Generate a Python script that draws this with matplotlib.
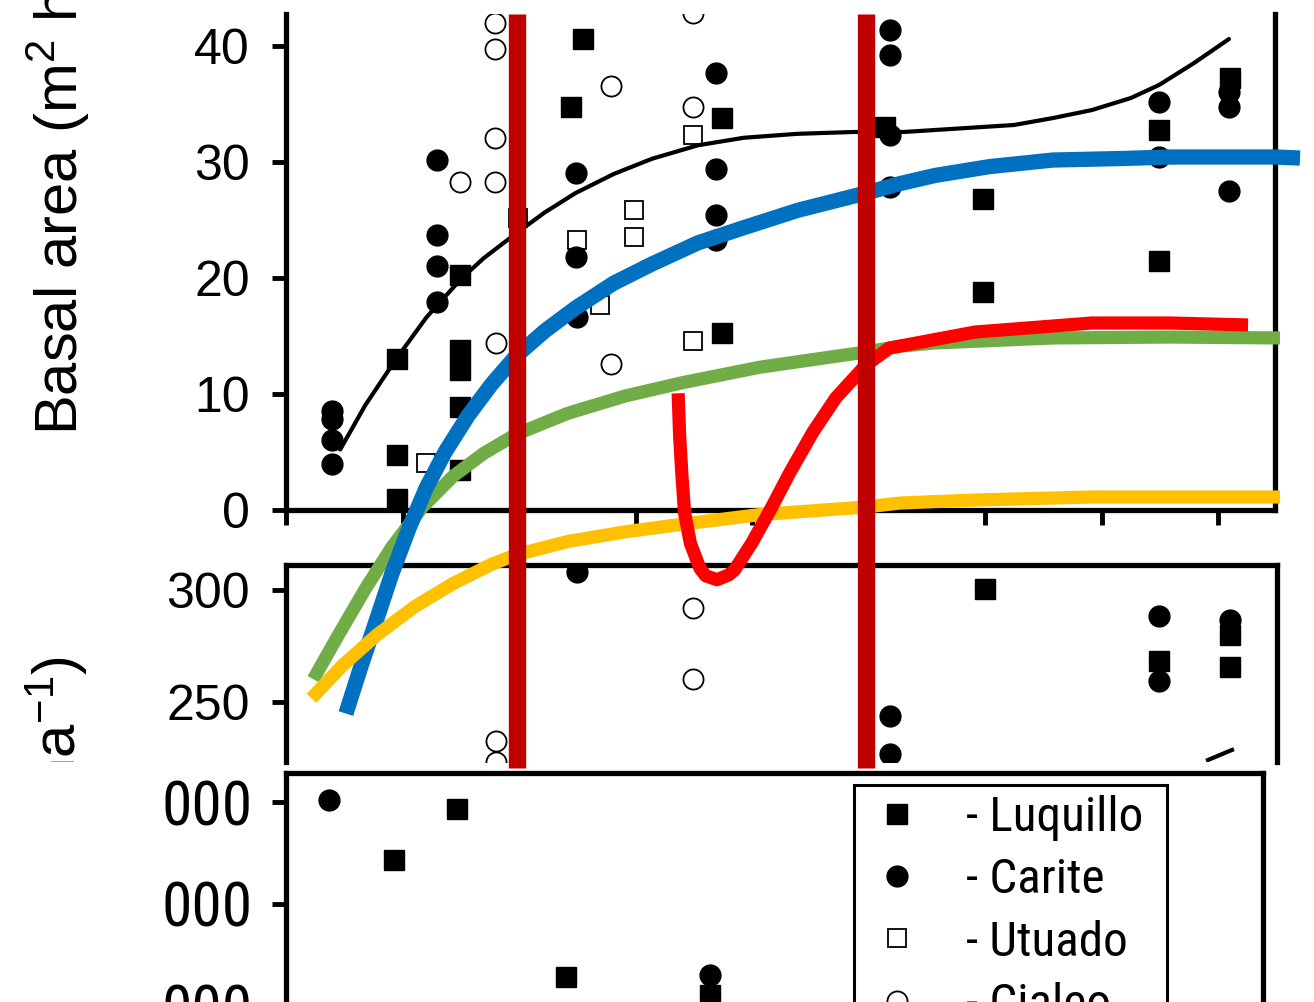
import matplotlib
matplotlib.use('Agg')
import matplotlib.pyplot as plt
from matplotlib import font_manager
from matplotlib.font_manager import FontProperties
from matplotlib.lines import Line2D
from matplotlib.transforms import Bbox
from matplotlib.textpath import TextPath

W, H = 1314, 1002
avail = {f.name for f in font_manager.fontManager.ttflist}
SANS = 'Liberation Sans' if 'Liberation Sans' in avail else 'DejaVu Sans'

plt.rcParams['font.family'] = [SANS, 'DejaVu Sans']
plt.rcParams['mathtext.fontset'] = 'custom'
plt.rcParams['mathtext.rm'] = SANS
plt.rcParams['mathtext.it'] = SANS + ':italic'
plt.rcParams['mathtext.bf'] = SANS + ':bold'

# ---------------- data ----------------
age_ticks = [0, 10, 20, 30, 40, 50, 60, 70, 80]
ba_ticks = [0, 10, 20, 30, 40]
mid_ticks = [250, 300]
bot_ticks = [1, 2, 3]
bot_ticklabels = ['000', '000', '000']

site_names = ['- Luquillo', '- Carite', '- Utuado', '- Cialeo']

# top panel: basal area (m2 ha-1) vs stand age (yr)
luq_age = [9.53, 9.53, 9.53, 14.94, 14.94, 14.94, 14.94, 14.94, 25.49, 24.46,
           37.42, 37.42, 51.42, 59.83, 59.83, 74.94, 74.94, 81.03]
luq_ba = [13.02, 4.74, 0.95, 20.26, 13.79, 12.07, 8.88, 3.45, 40.60, 34.74,
          33.79, 15.26, 33.02, 26.81, 18.79, 32.76, 21.47, 37.24]

car_age = [3.95, 3.95, 3.95, 3.95, 12.96, 12.96, 12.96, 12.96, 24.89, 24.89, 24.98,
           36.91, 36.91, 36.91, 36.91, 51.85, 51.85, 51.85, 51.85, 74.94, 74.94,
           80.94, 80.94, 80.94]
car_ba = [8.53, 7.84, 6.03, 3.97, 30.17, 23.71, 21.03, 17.93, 29.05, 21.81, 16.64,
          37.67, 29.40, 25.43, 23.28, 41.38, 39.22, 32.33, 27.84, 35.17, 30.43,
          36.03, 34.74, 27.50]

utu_age = [12.02, 24.98, 29.87, 29.87, 26.95, 34.94, 34.94, 19.9]
utu_ba = [4.05, 23.28, 25.86, 23.53, 17.67, 32.33, 14.57, 25.17]

cia_age = [14.94, 17.94, 17.94, 17.94, 17.94, 18.03, 27.90, 27.90, 34.94, 34.94]
cia_ba = [28.28, 41.98, 39.74, 32.07, 28.28, 14.40, 36.55, 12.59, 42.84, 34.74]

# black fitted curve (top panel)
fit_age = [4.65, 6.79, 9.42, 12.04, 15.00, 16.97, 19.76, 22.22, 24.85, 28.14, 31.42,
           35.36, 39.30, 43.91, 48.83, 53.05, 62.49, 65.84, 69.18, 72.53, 74.94,
           77.94, 80.94]
fit_ba = [5.21, 9.01, 12.97, 16.59, 19.89, 21.71, 23.85, 25.66, 27.32, 28.97, 30.28,
          31.44, 32.09, 32.43, 32.59, 32.59, 33.19, 33.79, 34.48, 35.52, 36.64,
          38.53, 40.60]

# middle panel
luq_mid_age = [60.0, 74.94, 81.03, 81.03]
luq_mid = [300.4, 268.3, 279.9, 265.6]
car_mid_age = [24.98, 74.94, 74.94, 81.03, 51.85, 51.85]
car_mid = [308.0, 288.4, 259.4, 286.6, 243.75, 226.8]
cia_mid_age = [34.94, 34.94, 18.03, 18.03]
cia_mid = [292.0, 260.3, 232.6, 223.2]
fit_mid_age = [79.14, 81.20]
fit_mid = [224.1, 228.6]

# bottom panel (thousands)
luq_bot_age = [9.27, 14.68, 24.03, 36.39]
luq_bot = [2.431, 2.931, 1.284, 1.108]
car_bot_age = [3.69, 36.39]
car_bot = [3.02, 1.304]

# hand-drawn coloured curves (in basal-area units of the top panel)
blue_age = [5.14, 6.45, 7.77, 9.08, 10.57, 12.04, 13.68, 15.66, 17.63, 19.76, 22.22,
            24.85, 28.14, 31.42, 35.36, 39.30, 43.91, 49.75, 52.71, 55.71, 60.43, 65.84,
            71.73, 75.88, 84.98, 87.04]
blue_val = [-17.55, -13.43, -9.47, -5.51, -1.55, 1.91, 5.04, 8.18, 10.82, 13.29, 15.44,
            17.41, 19.56, 21.21, 23.03, 24.34, 25.83, 27.32, 28.14, 28.84, 29.61, 30.17,
            30.30, 30.43, 30.43, 30.34]
green_age = [2.35, 4.49, 6.79, 9.08, 11.72, 14.34, 16.97, 19.76, 24.20, 29.12, 34.05,
             40.62, 49.75, 52.71, 55.71, 65.84, 75.88, 85.32]
green_val = [-14.59, -10.79, -6.83, -3.20, 0.26, 2.91, 4.88, 6.53, 8.34, 9.83, 10.98,
             12.30, 13.62, 14.12, 14.40, 14.83, 14.91, 14.83]
yellow_age = [2.19, 4.82, 7.77, 11.06, 14.34, 17.63, 19.76, 24.20, 29.12, 34.05, 40.62,
              49.75, 52.71, 59.14, 69.18, 79.31, 85.32]
yellow_val = [-16.23, -13.43, -10.79, -8.32, -6.34, -4.69, -3.86, -2.71, -1.88, -1.22,
              -0.40, 0.26, 0.60, 0.86, 1.12, 1.12, 1.12]
red_age = [33.66, 33.79, 33.98, 34.21, 34.71, 35.53, 36.02, 37.00, 37.99, 38.49, 39.97,
           41.61, 43.25, 45.22, 47.19, 49.75, 51.79, 59.14, 69.18, 75.88, 82.58]
red_val = [10.06, 6.36, 3.07, -0.23, -2.87, -5.02, -5.67, -6.01, -5.60, -5.18, -2.87,
           0.09, 3.23, 6.70, 9.66, 12.47, 13.96, 15.34, 16.12, 16.12, 15.95]
vline_ages = [19.8, 49.8]

# ---------------- fonts ----------------
def find_narrow():
    prefs = ['liberation sans narrow', 'arial narrow', 'roboto condensed', 'open sans condensed',
             'noto sans condensed', 'dejavu sans condensed', 'dejavu sans', 'noto sans', 'open sans']
    cands = []
    for f in font_manager.fontManager.ttflist:
        nm = f.name.lower()
        fn = str(f.fname).lower()
        narrowish = ('narrow' in nm or 'condensed' in nm or 'narrow' in fn or 'condensed' in fn
                     or str(f.stretch) in ('condensed', 'semi-condensed', 'extra-condensed', 'ultra-condensed'))
        if not narrowish:
            continue
        if f.style != 'normal' or str(f.weight) not in ('400', 'normal', 'regular', 'book'):
            continue
        if 'mono' in nm or ('serif' in nm and 'sans' not in nm):
            continue
        rank = len(prefs)
        for i, p in enumerate(prefs):
            if nm.startswith(p) or p.replace(' ', '') in fn.replace('-', '').replace('_', ''):
                rank = i
                break
        cands.append((rank, f.fname))
    if cands:
        cands.sort()
        return FontProperties(fname=cands[0][1])
    return FontProperties(family=SANS)


FP_NARROW = find_narrow()


def ink_width_px(s, fp, size):
    return TextPath((0, 0), s, size=size, prop=fp).get_extents().width * 100 / 72


LEG_SIZE = min(37.0, 37.0 * 174.0 / ink_width_px('- Luquillo', FP_NARROW, 37.0))
TICK_SIZE = min(46.0, 46.0 * 84.0 / ink_width_px('000', FP_NARROW, 46.0))

# ---------------- layout helpers ----------------
X0 = 286.0
PXX = 11.65   # px per year
Y0 = 510.0
PXY = 11.6    # px per m2/ha

fig = plt.figure(figsize=(W / 100, H / 100), dpi=100)


def px_axes(left, top, right, bottom, **kw):
    return fig.add_axes([left / W, 1 - bottom / H, (right - left) / W, (bottom - top) / H], **kw)


SPW = 3.8
MS_SQ = 14
MS_CI = 15


def style_axes(ax):
    for s in ax.spines.values():
        s.set_linewidth(SPW)
    ax.set_facecolor('none')


def plot_sites(ax, sq_x, sq_y, ci_x, ci_y, osq_x=None, osq_y=None, oci_x=None, oci_y=None):
    if osq_x:
        ax.plot(osq_x, osq_y, ls='none', marker='s', ms=MS_SQ - 1, mfc='white', mec='black', mew=1.3)
    if oci_x:
        ax.plot(oci_x, oci_y, ls='none', marker='o', ms=MS_CI - 0.5, mfc='white', mec='black', mew=1.3)
    if sq_x:
        ax.plot(sq_x, sq_y, ls='none', marker='s', ms=MS_SQ, color='black')
    if ci_x:
        ax.plot(ci_x, ci_y, ls='none', marker='o', ms=MS_CI, color='black')


# ---- top panel ----
ax_top = px_axes(X0, 14, 1275, Y0)
style_axes(ax_top)
ax_top.set_xlim(0, (1275 - X0) / PXX)
ax_top.set_ylim(0, (Y0 - 14) / PXY)
ax_top.spines['top'].set_visible(False)
ax_top.set_xticks(age_ticks)
ax_top.set_xticklabels([])
ax_top.set_yticks(ba_ticks)
ax_top.set_yticklabels([str(v) for v in ba_ticks], fontsize=36)
ax_top.tick_params(axis='x', direction='out', length=11, width=3.5)
ax_top.tick_params(axis='y', direction='out', length=10, width=3.5, pad=16)
plot_sites(ax_top, luq_age, luq_ba, car_age, car_ba, utu_age, utu_ba, cia_age, cia_ba)
ax_top.plot(fit_age, fit_ba, color='black', lw=3, solid_capstyle='round', solid_joinstyle='round')

# ---- middle panel ----
ax_mid = px_axes(X0, 565, 1277, 762)
style_axes(ax_mid)
ax_mid.set_xlim(0, (1277 - X0) / PXX)
ax_mid.set_ylim(300 - (762 - 590) / 2.24, 300 + (590 - 565) / 2.24)
ax_mid.spines['bottom'].set_visible(False)
ax_mid.set_xticks([])
ax_mid.set_yticks(mid_ticks)
ax_mid.set_yticklabels([str(v) for v in mid_ticks], fontsize=36)
ax_mid.tick_params(axis='y', direction='out', length=10, width=3.5, pad=16)
plot_sites(ax_mid, luq_mid_age, luq_mid, car_mid_age, car_mid, None, None, cia_mid_age, cia_mid)
ax_mid.plot(fit_mid_age, fit_mid, color='black', lw=3)

# ---- bottom panel ----
ax_bot = px_axes(X0, 773, 1263, 1100)
style_axes(ax_bot)
ax_bot.set_xlim(0, (1263 - X0) / PXX)
ax_bot.set_ylim(3 - (1100 - 802) / 102, 3 + (802 - 773) / 102)
ax_bot.set_xticks([])
ax_bot.set_yticks(bot_ticks)
ax_bot.set_yticklabels(bot_ticklabels)
for lab in ax_bot.get_yticklabels():
    lab.set_fontproperties(FP_NARROW)
    lab.set_fontsize(TICK_SIZE)
ax_bot.tick_params(axis='y', direction='out', length=10, width=3.5, pad=14)
plot_sites(ax_bot, luq_bot_age, luq_bot, car_bot_age, car_bot)

handles = [
    Line2D([], [], ls='none', marker='s', ms=MS_SQ, color='black'),
    Line2D([], [], ls='none', marker='o', ms=MS_CI, color='black'),
    Line2D([], [], ls='none', marker='s', ms=MS_SQ - 1, mfc='white', mec='black', mew=1.3),
    Line2D([], [], ls='none', marker='o', ms=MS_CI - 0.5, mfc='white', mec='black', mew=1.3),
]
f_px = LEG_SIZE * 100 / 72
bp = max(0.05, (33.0 - 0.47 * f_px) / f_px)
hl = 2 * (897 - 854 - bp * f_px) / f_px
htp = (966 - 854 - bp * f_px - hl * f_px) / f_px
ls = max(0.0, (62.5 - 0.94 * f_px) / f_px)
leg_prop = FP_NARROW.copy()
leg_prop.set_size(LEG_SIZE)
leg = ax_bot.legend(handles, site_names, loc='upper left', mode='expand',
                    bbox_to_anchor=(854 / W, 1 - 785 / H - 0.01, (1167 - 854) / W, 0.01),
                    bbox_transform=fig.transFigure,
                    frameon=True, fancybox=False, edgecolor='black', framealpha=1,
                    borderaxespad=0, prop=leg_prop,
                    handlelength=hl, handletextpad=htp, borderpad=bp, labelspacing=ls)
leg.get_frame().set_linewidth(2.2)

# ---- overlay with hand-drawn coloured curves ----
ax_ov = fig.add_axes([0, 0, 1, 1], zorder=10)
ax_ov.set_xlim(-X0 / PXX, (W - X0) / PXX)
ax_ov.set_ylim((Y0 - H) / PXY, Y0 / PXY)
ax_ov.axis('off')
ax_ov.patch.set_alpha(0)
kw = dict(solid_capstyle='butt', solid_joinstyle='round')
ax_ov.plot(green_age, green_val, color='#70AD47', lw=9.5, **kw)
ax_ov.plot(blue_age, blue_val, color='#0070C0', lw=11, **kw)
ax_ov.plot(yellow_age, yellow_val, color='#FFC000', lw=9.5, **kw)
ax_ov.plot(red_age, red_val, color='#FF0000', lw=9.5, **kw)
ax_ov.vlines(vline_ages, (Y0 - 768) / PXY, (Y0 - 14) / PXY, color='#C00000', lw=12.5)

# ---- axis labels ----
fig.text(78 / W, 1 - 435 / H, 'Basal area (m$^2$ ha$^{-1}$)', rotation=90,
         rotation_mode='anchor', ha='left', va='baseline', fontsize=43)
t = fig.text(76 / W, 1 - 656 / H, 'Density (stems ha$^{-1}$)', rotation=90,
             rotation_mode='anchor', ha='right', va='baseline', fontsize=43)
t.set_clip_box(Bbox.from_extents(0, H - 762, W, H))
t.set_clip_on(True)

fig.savefig('out.png', dpi=100)
